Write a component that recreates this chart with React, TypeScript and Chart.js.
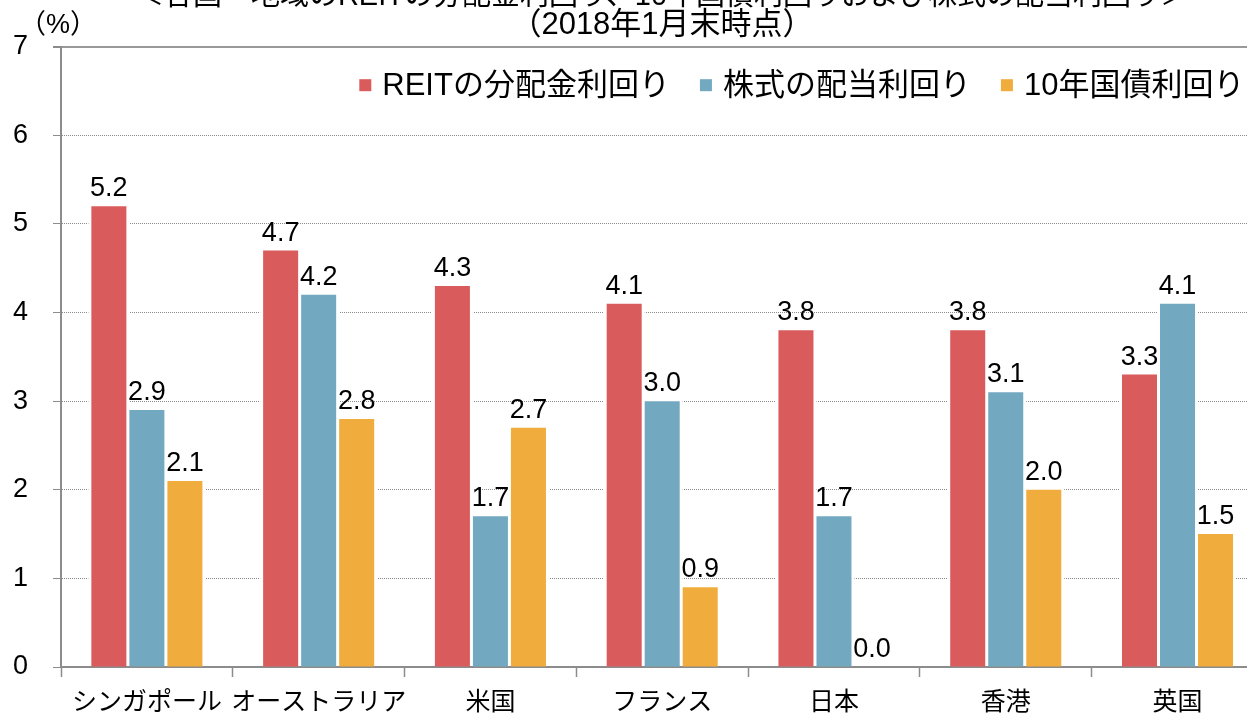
import React, { useEffect, useRef } from 'react';
import { Chart, registerables } from 'chart.js';

Chart.register(...registerables);

const categories = ['シンガポール', 'オーストラリア', '米国', 'フランス', '日本', '香港', '英国'];
const reitYield = [5.2, 4.7, 4.3, 4.1, 3.8, 3.8, 3.3];
const stockYield = [2.9, 4.2, 1.7, 3.0, 1.7, 3.1, 4.1];
const bondYield = [2.1, 2.8, 2.7, 0.9, 0.0, 2.0, 1.5];
const seriesLabels = ['REITの分配金利回り', '株式の配当利回り', '10年国債利回り'];
const seriesColors = ['#DA5B5C', '#73A9C0', '#F0AC3D'];
const titleLines = [
  '＜各国・地域のREITの分配金利回り、10年国債利回りおよび株式の配当利回り＞',
  '（2018年1月末時点）',
];
const unitLabel = '（%）';
const yTicks = [0, 1, 2, 3, 4, 5, 6, 7];

const FONT = '"Liberation Sans", "Noto Sans CJK JP", sans-serif';
const AXIS_GRAY = '#8c8c8c';

const decorPlugin = {
  id: 'decor',
  beforeDatasetsDraw(chart: any) {
    const ctx = chart.ctx;
    ctx.save();
    ctx.fillStyle = '#ffffff';
    chart.data.datasets.forEach((_ds: any, i: number) => {
      chart.getDatasetMeta(i).data.forEach((bar: any) => {
        const { x, y, base, width } = bar.getProps(['x', 'y', 'base', 'width'], true);
        if (base - y < 0.5) return;
        ctx.fillRect(x - width / 2 - 3, y - 3, width + 6, base - y + 2);
      });
    });
    ctx.restore();
  },
  afterDatasetsDraw(chart: any) {
    const ctx = chart.ctx;
    ctx.save();
    ctx.font = `27px ${FONT}`;
    ctx.fillStyle = '#000000';
    ctx.textAlign = 'center';
    ctx.textBaseline = 'alphabetic';
    chart.data.datasets.forEach((ds: any, i: number) => {
      chart.getDatasetMeta(i).data.forEach((bar: any, j: number) => {
        const { x, y } = bar.getProps(['x', 'y'], true);
        const v = ds.data[j] as number;
        ctx.fillText(v.toFixed(1), x, y - 10);
      });
    });
    ctx.restore();
  },
  afterDraw(chart: any) {
    const ctx = chart.ctx;
    const area = chart.chartArea;
    ctx.save();
    // title
    ctx.fillStyle = '#000000';
    ctx.textAlign = 'center';
    ctx.textBaseline = 'middle';
    const cx = chart.width / 2;
    ctx.font = `29px ${FONT}`;
    ctx.fillText(titleLines[0], cx, area.top - 50);
    ctx.font = `31px ${FONT}`;
    ctx.fillText(titleLines[1], cx, area.top - 21);
    // unit
    ctx.font = `27px ${FONT}`;
    ctx.fillText(unitLabel, area.left - 3, area.top - 21);
    // legend
    ctx.font = `31px ${FONT}`;
    ctx.textAlign = 'left';
    const box = 12;
    const gap = 11;
    const itemGap = 30;
    const widths = seriesLabels.map((l) => ctx.measureText(l).width);
    const total = widths.reduce((a, w) => a + box + gap + w, 0) + itemGap * (seriesLabels.length - 1);
    let x = area.right - 19 - total;
    const ly = area.top + 38.5;
    seriesLabels.forEach((l, i) => {
      ctx.fillStyle = seriesColors[i];
      ctx.fillRect(x, ly - box / 2, box, box);
      ctx.fillStyle = '#000000';
      ctx.fillText(l, x + box + gap, ly + 1);
      x += box + gap + widths[i] + itemGap;
    });
    ctx.restore();
  },
};

export default function App() {
  const canvasRef = useRef<HTMLCanvasElement | null>(null);

  useEffect(() => {
    const canvas = canvasRef.current;
    if (!canvas) return;
    const seriesData = [reitYield, stockYield, bondYield];
    const chart = new Chart(canvas, {
      type: 'bar',
      data: {
        labels: categories,
        datasets: seriesData.map((d, i) => ({
          label: seriesLabels[i],
          data: d,
          backgroundColor: seriesColors[i],
          borderWidth: 0,
          barPercentage: 0.921,
          categoryPercentage: 0.664,
        })),
      },
      options: {
        responsive: false,
        animation: false,
        devicePixelRatio: 1,
        layout: { padding: { top: 46.7, left: 13, right: 60.6, bottom: 0 } },
        plugins: {
          legend: { display: false },
          title: { display: false },
          tooltip: { enabled: false },
        },
        scales: {
          x: {
            afterFit: (scale: any) => {
              scale.height = 48;
              scale.paddingLeft = 0;
              scale.paddingRight = 0;
            },
            grid: {
              display: true,
              drawOnChartArea: false,
              drawTicks: true,
              tickLength: 10,
              offset: true,
              color: AXIS_GRAY,
              tickColor: AXIS_GRAY,
              tickWidth: 1.5,
            },
            border: { display: true, color: AXIS_GRAY, width: 2 },
            ticks: {
              color: '#000000',
              font: { size: 25, family: FONT },
              padding: 11,
              maxRotation: 0,
              minRotation: 0,
              autoSkip: false,
            },
          },
          y: {
            min: yTicks[0],
            max: yTicks[yTicks.length - 1],
            afterFit: (scale: any) => {
              scale.width = 48;
              scale.paddingTop = 0;
              scale.paddingBottom = 0;
            },
            grid: {
              color: (c: any) => (c.tick && c.tick.value === yTicks[yTicks.length - 1] ? '#999999' : '#8a8a8a'),
              lineWidth: (c: any) => (c.tick && c.tick.value === yTicks[yTicks.length - 1] ? 2 : 1),
              tickLength: 8,
              tickColor: AXIS_GRAY,
              tickBorderDash: [],
            },
            border: {
              display: true,
              color: AXIS_GRAY,
              width: 2,
              dash: (c: any) => (c.tick && c.tick.value === yTicks[yTicks.length - 1] ? [] : [1, 1]),
            },
            ticks: {
              stepSize: 1,
              color: '#000000',
              font: { size: 27, family: FONT },
              padding: 25,
            },
          },
        },
      },
      plugins: [decorPlugin],
    } as any);
    return () => chart.destroy();
  }, []);

  return (
    <div
      style={{
        position: 'fixed',
        left: 0,
        top: 0,
        width: '100vw',
        height: '100vh',
        overflow: 'hidden',
        background: '#ffffff',
      }}
    >
      <canvas ref={canvasRef} width={1324} height={715} style={{ display: 'block' }} />
    </div>
  );
}
